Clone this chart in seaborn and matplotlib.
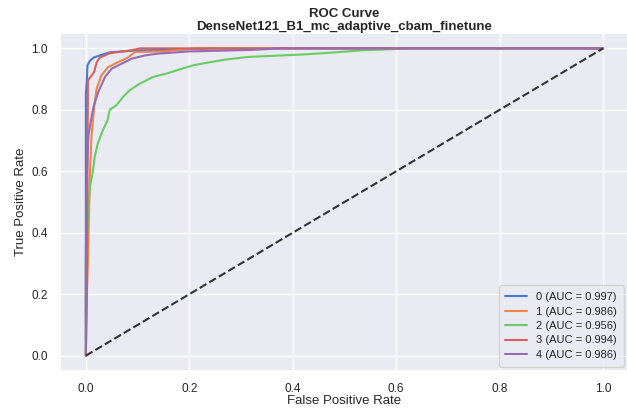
import numpy as np
import matplotlib
matplotlib.use("Agg")
import matplotlib.pyplot as plt
import seaborn as sns

sns.set_theme(style="darkgrid", palette="muted")
plt.rcParams['font.family'] = ['Liberation Sans', 'DejaVu Sans']

model_name = "DenseNet121_B1_mc_adaptive_cbam_finetune"
class_names = ["0", "1", "2", "3", "4"]
auc_values = [0.997, 0.986, 0.956, 0.994, 0.986]

# ROC 커브 좌표
fpr_0 = [0.0, 0.0, 0.002, 0.003, 0.008, 0.015, 0.027, 0.046, 0.07, 0.095, 0.16, 0.25, 1.0]
tpr_0 = [0.0, 0.85, 0.90, 0.945, 0.96, 0.97, 0.977, 0.987, 0.990, 0.993, 0.995, 1.0, 1.0]

fpr_1 = [0.0, 0.002, 0.004, 0.006, 0.008, 0.011, 0.014, 0.017, 0.021, 0.030, 0.043, 0.062,
         0.081, 0.095, 0.15, 0.21, 1.0]
tpr_1 = [0.0, 0.20, 0.31, 0.45, 0.60, 0.717, 0.77, 0.825, 0.87, 0.912, 0.939, 0.955,
         0.97, 0.988, 0.990, 1.0, 1.0]

fpr_2 = [0.0, 0.0, 0.004, 0.006, 0.008, 0.014, 0.017, 0.023, 0.03, 0.036, 0.042, 0.046,
         0.059, 0.072, 0.085, 0.104, 0.13, 0.156, 0.182, 0.208, 0.24, 0.268, 0.313,
         0.43, 0.49, 0.536, 0.57, 0.63, 1.0]
tpr_2 = [0.0, 0.30, 0.45, 0.50, 0.55, 0.604, 0.647, 0.69, 0.722, 0.745, 0.766, 0.80,
         0.815, 0.842, 0.864, 0.885, 0.907, 0.918, 0.932, 0.945, 0.955, 0.963, 0.972,
         0.981, 0.988, 0.994, 0.996, 1.0, 1.0]

fpr_3 = [0.0, 0.002, 0.004, 0.016, 0.021, 0.027, 0.046, 0.085, 0.105, 0.38, 1.0]
tpr_3 = [0.0, 0.20, 0.896, 0.923, 0.955, 0.97, 0.984, 0.993, 1.0, 1.0, 1.0]

fpr_4 = [0.0, 0.0, 0.002, 0.005, 0.014, 0.024, 0.037, 0.05, 0.069, 0.088, 0.114, 0.14,
         0.20, 0.32, 0.375, 1.0]
tpr_4 = [0.0, 0.32, 0.60, 0.717, 0.805, 0.858, 0.907, 0.934, 0.95, 0.966, 0.977, 0.983,
         0.99, 0.995, 1.0, 1.0]

fpr_list = [fpr_0, fpr_1, fpr_2, fpr_3, fpr_4]
tpr_list = [tpr_0, tpr_1, tpr_2, tpr_3, tpr_4]

fig = plt.figure(figsize=(6.27, 4.09), dpi=100)
ax = fig.add_axes([60 / 627, 1 - 371 / 409, 569 / 627, 338 / 409])

colors = sns.color_palette("muted", 5)
for i, name in enumerate(class_names):
    ax.plot(fpr_list[i], tpr_list[i], color=colors[i], lw=1.5,
            label=f"{name} (AUC = {auc_values[i]:.3f})")

ax.plot([0, 1], [0, 1], linestyle='--', lw=1.5, color='#333333')

ax.set_xlim(-0.05, 1.05)
ax.set_ylim(-0.05, 1.05)
ax.set_xticks([0.0, 0.2, 0.4, 0.6, 0.8, 1.0])
ax.set_yticks([0.0, 0.2, 0.4, 0.6, 0.8, 1.0])
ax.tick_params(labelsize=8.5, pad=3)
ax.set_xlabel("False Positive Rate", fontsize=9.5, labelpad=0)
ax.set_ylabel("True Positive Rate", fontsize=9.5, labelpad=3)
ax.set_title(f"ROC Curve\n{model_name}", fontsize=9.5, fontweight='bold', pad=2,
             linespacing=1.1)
ax.legend(loc="lower right", fontsize=8, frameon=True, borderaxespad=0,
          borderpad=0.6, labelspacing=0.4, bbox_to_anchor=(0.991, 0.013))

fig.savefig("out.png", dpi=100)
